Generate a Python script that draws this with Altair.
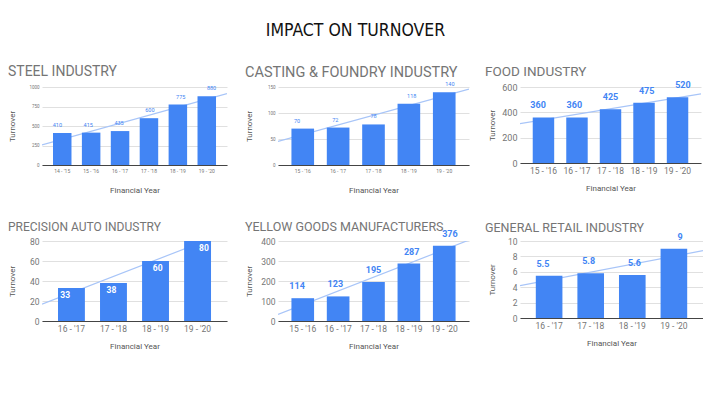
import altair as alt
import pandas as pd

# ---- data ----
steel_years = ["14 - '15", "15 - '16", "16 - '17", "17 - '18", "18 - '19", "19 - '20"]
steel_vals = [410, 415, 435, 600, 775, 880]

casting_years = ["15 - '16", "16 - '17", "17 - '18", "18 - '19", "19 - '20"]
casting_vals = [70, 72, 78, 118, 140]

food_years = ["15 - '16", "16 - '17", "17 - '18", "18 - '19", "19 - '20"]
food_vals = [360, 360, 425, 475, 520]

precision_years = ["16 - '17", "17 - '18", "18 - '19", "19 - '20"]
precision_vals = [33, 38, 60, 80]

yellow_years = ["15 - '16", "16 - '17", "17 - '18", "18 - '19", "19 - '20"]
yellow_vals = [114, 123, 195, 287, 376]

retail_years = ["16 - '17", "17 - '18", "18 - '19", "19 - '20"]
retail_vals = [5.5, 5.8, 5.6, 9]
retail_labels = ["5.5", "5.8", "5.6", "9"]

BLUE = "#4285F4"
TREND = "#A8C5F8"
GRAY = "#757575"
FONT = "Roboto"
PI, PO = 0.36, 0.38


def panel(title, years, vals, labels, w, h, ymax, ticks, title_size, title_dy, title_dx,
          ylab_size, xlab_size, dl_size, dl_bold, dl_inside, title_x):
    n = len(years)
    df = pd.DataFrame({"year": years, "turnover": vals, "label": labels,
                       "idx": list(range(n))})
    base = alt.Chart(df)
    lo = -(PO + (1 - PI) / 2)
    hi = (n - 1) - lo
    xscale = alt.Scale(paddingInner=PI, paddingOuter=PO)
    xband = alt.X("year:N", sort=years, scale=xscale,
                  axis=alt.Axis(title="Financial Year", labelAngle=0, ticks=False,
                                domain=True, domainColor="#444", domainWidth=1,
                                labelColor=GRAY, labelFontSize=xlab_size, labelFont=FONT,
                                labelPadding=3, titleFont=FONT, titleFontSize=8,
                                titleFontWeight="normal", titleColor="#555",
                                titleY=25, titleBaseline="middle", grid=False))
    yaxis = alt.Axis(title="Turnover", values=ticks, format="d", grid=True,
                     gridColor="#E0E0E0", domain=False, ticks=False,
                     labelColor=GRAY, labelFontSize=ylab_size, labelFont=FONT,
                     labelPadding=3, titleFont=FONT, titleFontSize=8,
                     titleFontWeight="normal", titleColor="#555",
                     titleX=title_x, titleY=h / 2, titleAngle=270,
                     titleBaseline="middle", titleAlign="center")
    yq = alt.Y("turnover:Q", scale=alt.Scale(domain=[0, ymax], nice=False), axis=yaxis)
    trend = base.transform_regression(
        "idx", "turnover", extent=[lo, hi]
    ).mark_line(color=TREND, strokeWidth=1.2, clip=True).encode(
        x=alt.X("idx:Q", scale=alt.Scale(domain=[lo, hi], nice=False, zero=False), axis=None),
        y=yq,
    )
    bars = base.mark_bar(color=BLUE).encode(x=xband, y=yq)
    if dl_inside:
        txt = base.mark_text(color="white", fontSize=dl_size, font=FONT,
                             fontWeight="bold" if dl_bold else "normal",
                             baseline="top", dy=3)
    else:
        txt = base.mark_text(color=BLUE, fontSize=dl_size, font=FONT,
                             fontWeight="bold" if dl_bold else "normal",
                             baseline="bottom", dy=-5 if dl_size < 7 else -7)
    txt = txt.encode(x=alt.X("year:N", sort=years, scale=xscale, axis=None),
                     y=yq, text="label:N")
    return alt.layer(trend, bars, txt).resolve_scale(x="independent").properties(
        width=w, height=h,
        title=alt.TitleParams(title, anchor="start", fontSize=title_size, font=FONT,
                              fontWeight="normal", color=GRAY, offset=6,
                              dy=title_dy, dx=title_dx))


steel = panel("STEEL INDUSTRY", steel_years, steel_vals, [str(v) for v in steel_vals],
              185, 78, 1000, [0, 250, 500, 750, 1000], 14, 1, 0, 4.5, 5, 5.5, False, False, -30)
casting = panel("CASTING & FOUNDRY  INDUSTRY", casting_years, casting_vals,
                [str(v) for v in casting_vals],
                191, 78, 150, [0, 50, 100, 150], 14.5, 4, 0, 4.5, 5, 5.5, False, False, -29)
food = panel("FOOD INDUSTRY", food_years, food_vals, [str(v) for v in food_vals],
             181, 76, 600, [0, 200, 400, 600], 13.5, 3.5, -3, 9, 8.5, 9, True, False, -28)
precision = panel("PRECISION AUTO INDUSTRY", precision_years, precision_vals,
                  [str(v) for v in precision_vals],
                  185, 80, 80, [0, 20, 40, 60, 80], 12, 2.5, 0, 8.5, 8.5, 8.5, True, True, -30)
yellow = panel("YELLOW GOODS MANUFACTURERS", yellow_years, yellow_vals,
               [str(v) for v in yellow_vals],
               191, 80, 400, [0, 100, 200, 300, 400], 12.5, 10, 0, 8.5, 8.5, 9, True, False, -29)
retail = panel("GENERAL RETAIL INDUSTRY", retail_years, retail_vals, retail_labels,
               183, 77, 10, [0, 2, 4, 6, 8, 10], 12.5, 7.5, -3, 8.5, 8.5, 9, True, False, -28)

chart = alt.concat(
    steel, casting, food, precision, yellow, retail,
    columns=3, spacing={"row": 76, "column": 51}, bounds="flush", align="each",
).properties(
    title=alt.TitleParams("IMPACT ON TURNOVER", anchor="middle",
                          font="Liberation Sans Narrow, DejaVu Sans Condensed, sans-serif",
                          fontSize=17.5, fontWeight="normal", color="#111", offset=25),
    padding={"left": 0, "top": 14, "right": 0, "bottom": 0},
).configure_view(stroke=None)

chart.save("out.html", embed_options={"renderer": "svg", "actions": False})
